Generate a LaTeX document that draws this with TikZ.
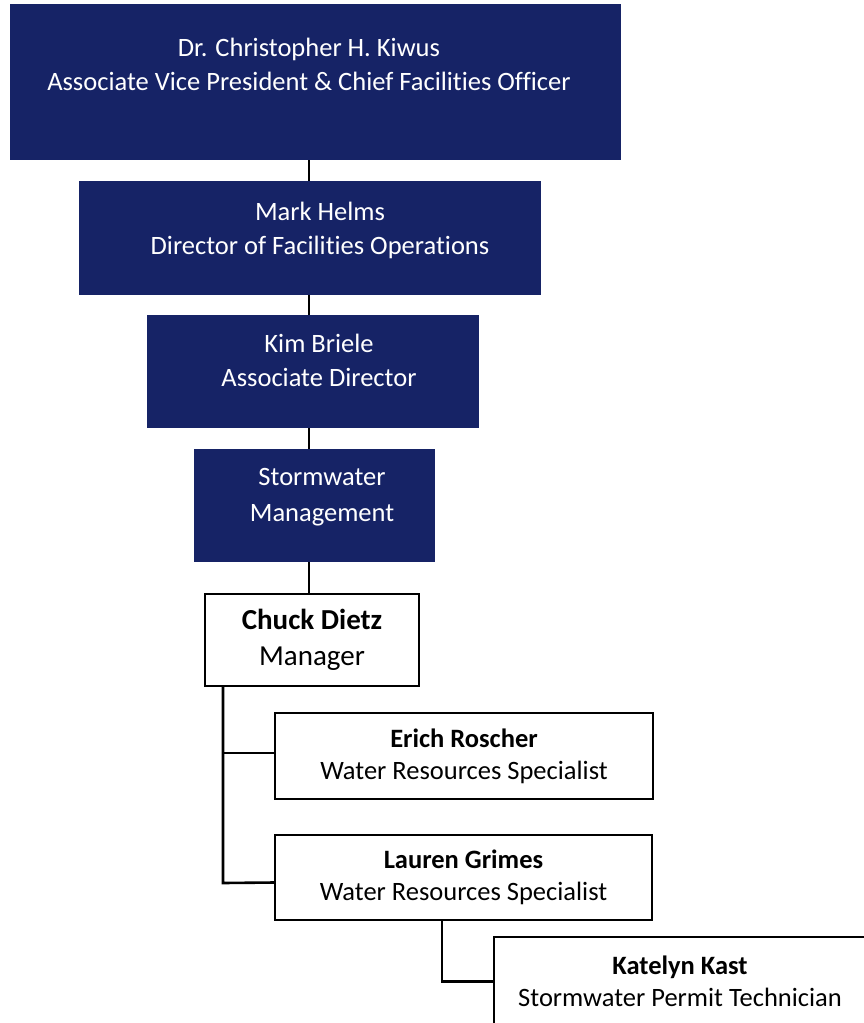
\documentclass[tikz,border=0pt]{standalone}
\usepackage{fontspec}
\setmainfont{Carlito}[Ligatures=CommonOff]
\usetikzlibrary{positioning}
\definecolor{navy}{RGB}{22,35,102}

\begin{document}
\begin{tikzpicture}[x=1pt,y=-1pt,
    navybox/.style={fill=navy,draw=none,inner sep=0pt},
    navytext/.style={text=white,align=center,inner sep=0pt,font=\fontsize{26.5}{34}\selectfont},
    staffbox/.style={draw=black,line width=1.4pt,fill=white,align=center,inner sep=0pt,font=\fontsize{26.5}{32}\selectfont},
    link/.style={line width=1.3pt},
    branch/.style={line width=2.6pt}]
      \useasboundingbox (0,0) rectangle (863,1023);
      % leadership chain
      \node[navybox,minimum width=611,minimum height=156] (avp) at (315.5,82) {};
      \node[navytext] (avpT) at (309,64) {Dr. Christopher H. Kiwus\\Associate Vice President \& Chief Facilities Officer};
      \node[navybox,minimum width=462,minimum height=114] (helms) at (310,238) {};
      \node[navytext] (helmsT) at (320,230) {Mark Helms\\Director of Facilities Operations};
      \node[navybox,minimum width=332,minimum height=113] (briele) at (313,371.5) {};
      \node[navytext] (brieleT) at (319,360) {Kim Briele\\Associate Director};
      \node[navybox,minimum width=241,minimum height=113] (storm) at (314.5,505.5) {};
      \node[navytext,font=\fontsize{26.5}{36}\selectfont] (stormT) at (322,497) {Stormwater\\Management};
      % stormwater staff
      \node[staffbox,minimum width=214,minimum height=92,font=\fontsize{29}{36}\selectfont] (dietz) at (312,640) {\textbf{Chuck Dietz}\\Manager};
      \node[staffbox,minimum width=378,minimum height=86] (roscher) at (464,756) {\textbf{Erich Roscher}\\Water Resources Specialist};
      \node[staffbox,minimum width=377,minimum height=85] (grimes) at (463.5,877.5) {\textbf{Lauren Grimes}\\Water Resources Specialist};
      \node[staffbox,minimum width=372,minimum height=89] (kast) at (680,981.5) {\textbf{Katelyn Kast}\\Stormwater Permit Technician};
      \coordinate (spine) at (309,0);
      \coordinate (trunk) at (223,0);
      \coordinate (fork) at (442,0);
        \foreach \a/\b in {avp/helms,helms/briele,briele/storm,storm/dietz}
          \draw[link] (spine |- \a.south) -- (spine |- \b.north);
        \draw[branch] (trunk |- dietz.south) -- (trunk |- 0,883) -- ([yshift=-5]grimes.west);
        \draw[branch] (trunk |- 0,753) -- ([yshift=3]roscher.west);
        \draw[branch] (fork |- grimes.south) -- (fork |- kast.west) -- (kast.west);
    \end{tikzpicture}
\end{document}
